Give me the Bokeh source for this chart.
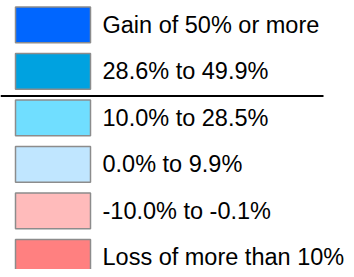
from bokeh.plotting import figure
from bokeh.models import Range1d, ColumnDataSource
from bokeh.core.properties import value
from bokeh.embed import file_html
from bokeh.resources import INLINE

labels = ["Gain of 50% or more", "28.6% to 49.9%", "10.0% to 28.5%",
          "0.0% to 9.9%", "-10.0% to -0.1%", "Loss of more than 10%"]
colors = ["#0066FF", "#00A2E0", "#70DEFF", "#C0E6FF", "#FFBBBB", "#FF8080"]
rows = list(range(len(labels)))

src = ColumnDataSource(dict(row=rows, label=labels, color=colors,
                            top=[r - 0.385 for r in rows], bottom=[r + 0.385 for r in rows]))

p = figure(width=346, height=269, output_backend="svg", toolbar_location=None,
           x_range=Range1d(0, 346), y_range=Range1d(5.26, -0.526),
           min_border=0, outline_line_color=None)
p.axis.visible = False
p.grid.visible = False
p.background_fill_color = "white"
p.border_fill_color = "white"

p.quad(left=15, right=90, top="top", bottom="bottom", source=src,
       fill_color="color", line_color="#8C8C8C", line_width=1.5)
p.text(x=102, y="row", text="label", source=src, text_baseline="middle",
       text_align="left", text_font=value("Liberation Sans"), text_font_size="23.5px",
       text_color="black")
p.segment(x0=0, x1=323, y0=1.53, y1=1.53, line_color="black", line_width=2)

open("out.html", "w").write(file_html(p, INLINE))
